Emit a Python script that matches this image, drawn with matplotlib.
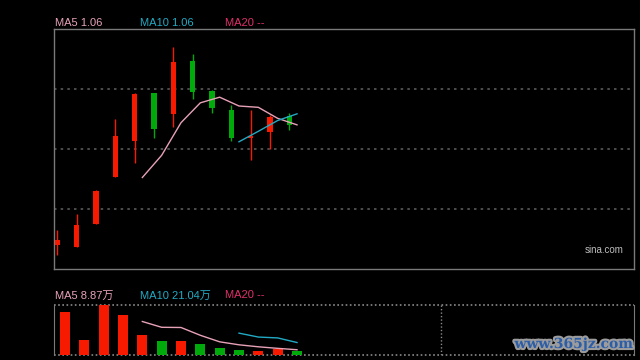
import matplotlib
matplotlib.use("Agg")
import matplotlib.pyplot as plt
import matplotlib.patheffects as pe
import numpy as np
import pandas as pd

# ---- data ----
opens  = [0.9760, 0.9749, 0.9902, 1.0215, 1.0455, 1.0775, 1.0635, 1.0987, 1.0787, 1.0660, 1.0475, 1.0513, 1.0625]
highs  = [0.9860, 0.9967, 1.0131, 1.0600, 1.0778, 1.0775, 1.1082, 1.1038, 1.0793, 1.0698, 1.0665, 1.0631, 1.0642]
lows   = [0.9693, 0.9749, 0.9902, 1.0215, 1.0309, 1.0475, 1.0549, 1.0733, 1.0642, 1.0453, 1.0331, 1.0405, 1.0527]
closes = [0.9793, 0.9893, 1.0120, 1.0487, 1.0767, 1.0533, 1.0980, 1.0782, 1.0675, 1.0473, 1.0489, 1.0613, 1.0565]
volumes = [725000, 253000, 843000, 668000, 335500, 236000, 236000, 185000, 118500, 84000, 67500, 106000, 67500]
price_ticks = [1.08, 1.04, 1.00]

RED = "#f81a00"
GREEN = "#00aa0a"
MA5C = "#e8a2b8"
MA10C = "#22aac4"
MA20C = "#e0306a"

n = len(closes)
idx = np.arange(n)
cser = pd.Series(closes)
vser = pd.Series(volumes)
ma5 = cser.rolling(5).mean()
ma10 = cser.rolling(10).mean()
vma5 = vser.rolling(5).mean()
vma10 = vser.rolling(10).mean()

W, H = 640, 360
fig = plt.figure(figsize=(6.4, 3.6), dpi=100, facecolor="black")
plt.rcParams['font.family'] = ['Liberation Sans', 'Noto Sans CJK SC', 'DejaVu Sans']

def axrect(l, t, r, b):
    return [l / W, 1 - b / H, (r - l) / W, (b - t) / H]

ax = fig.add_axes(axrect(54, 29.3, 634, 269.3))
av = fig.add_axes(axrect(54, 305, 634, 355))

XL = (-0.569, 29.431)
for a in (ax, av):
    a.set_facecolor("black")
    a.set_xlim(*XL)
    a.set_xticks([])
    a.set_yticks([])

# main panel
ax.set_ylim(0.96, 1.12)
for s in ax.spines.values():
    s.set_color("#7a7a7a")
    s.set_linewidth(1)
for t in price_ticks:
    ax.axhline(t, color="#5a5a5a", linestyle=(0, (1.5, 2.5)), linewidth=1.2, zorder=1)

cx = idx - 0.4
for i in range(n):
    up = closes[i] >= opens[i]
    col = RED if up else GREEN
    ax.vlines(cx[i], lows[i], highs[i], color=col, linewidth=1.0, zorder=3)
    lo, hi = min(opens[i], closes[i]), max(opens[i], closes[i])
    ax.bar(cx[i], max(hi - lo, 0.0012), bottom=lo, width=0.27, color=col, linewidth=0, zorder=4)

ax.plot(idx, ma5, color=MA5C, linewidth=1.0, zorder=5)
ax.plot(idx, ma10, color=MA10C, linewidth=1.0, zorder=5)

ax.text(0.982, 0.08, "sina.com", transform=ax.transAxes, color="#bdbdbd",
        fontsize=7, ha="right", va="center", family=["Liberation Sans"])

# volume panel
av.set_ylim(0, max(volumes))
for k in ("top", "bottom"):
    av.spines[k].set_visible(False)
for k in ("left", "right"):
    av.spines[k].set_color("#7a7a7a")
av.axhline(max(volumes), color="#8a8a8a", linestyle=(0, (1, 1.5)), linewidth=1.2, clip_on=False, zorder=1)
av.axhline(0, color="#8a8a8a", linestyle=(0, (1, 1.5)), linewidth=1.2, clip_on=False, zorder=1)
av.axvline(19.45, color="#8a8a8a", linestyle=(0, (1, 1.5)), linewidth=1.0, zorder=1)
vcols = [RED if closes[i] >= opens[i] else GREEN for i in range(n)]
av.bar(idx, volumes, width=0.52, color=vcols, linewidth=0, zorder=3)
av.plot(idx, vma5, color=MA5C, linewidth=1.0, zorder=4)
av.plot(idx, vma10, color=MA10C, linewidth=1.0, zorder=4)

# headers
fs = 8
def header(y, texts):
    xs = [55, 140, 225]
    cols = [MA5C, MA10C, MA20C]
    for x, tx, c in zip(xs, texts, cols):
        fig.text(x / W, 1 - y / H, tx, color=c, fontsize=fs, ha="left", va="center")

header(23.5, [f"MA5 {ma5.iloc[-1]:.2f}", f"MA10 {ma10.iloc[-1]:.2f}", "MA20 --"])
header(295.5, [f"MA5 {vma5.iloc[-1]/1e4:.2f}万", f"MA10 {vma10.iloc[-1]/1e4:.2f}万", "MA20 --"])

# watermark
fig.text(633 / W, 1 - 344 / H, "www.365jz.com", color="#2c5ea8", fontsize=10,
         fontweight="bold", family=["DejaVu Serif"], ha="right", va="center",
         path_effects=[pe.withStroke(linewidth=3, foreground="#9c9c9c")])

fig.savefig("out.png", dpi=100, facecolor="black")
